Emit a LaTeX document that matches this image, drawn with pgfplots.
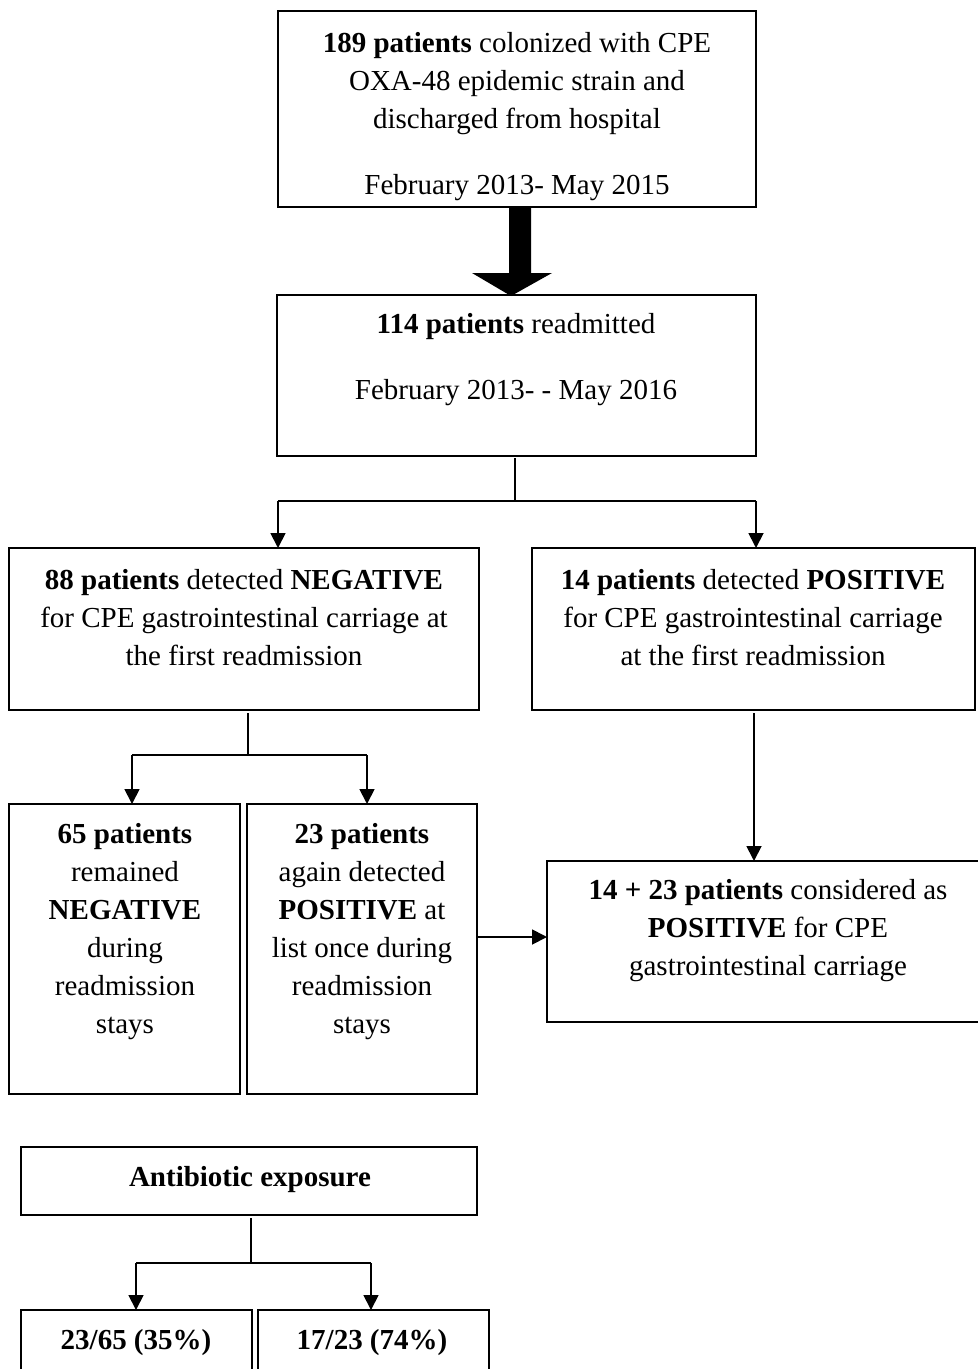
\documentclass[border=0pt]{standalone}
\usepackage{pgfplots}
\pgfplotsset{compat=1.18}
\usepackage{fontspec}
\setmainfont{Liberation Serif}
\usetikzlibrary{arrows.meta}
\begin{document}
\begin{tikzpicture}[txt/.style={align=center, font=\fontsize{14.5}{19}\selectfont, inner sep=0pt}]
\begin{axis}[
  scale only axis, width=489pt, height=684.5pt,
  xmin=0, xmax=978, ymin=0, ymax=1369, y dir=reverse,
  hide axis, clip=true,
  box/.style={black, line width=1pt, no markers, line join=miter},
  conn/.style={black, line width=0.9pt, no markers},
  arr/.style={black, line width=0.9pt, no markers, -{Triangle[width=7.5pt,length=7.5pt]}},
]
% boxes
\addplot[box] coordinates {(278,11) (756,11) (756,207) (278,207)} -- cycle;
\addplot[box] coordinates {(277,295) (756,295) (756,456) (277,456)} -- cycle;
\addplot[box] coordinates {(9,548) (479,548) (479,710) (9,710)} -- cycle;
\addplot[box] coordinates {(532,548) (975,548) (975,710) (532,710)} -- cycle;
\addplot[box] coordinates {(9,804) (240,804) (240,1094) (9,1094)} -- cycle;
\addplot[box] coordinates {(247,804) (477,804) (477,1094) (247,1094)} -- cycle;
\addplot[box] coordinates {(547,861) (985,861) (985,1022) (547,1022)} -- cycle;
\addplot[box] coordinates {(21,1147) (477,1147) (477,1215) (21,1215)} -- cycle;
\addplot[box] coordinates {(21,1310) (252,1310) (252,1390) (21,1390)} -- cycle;
\addplot[box] coordinates {(258,1310) (489,1310) (489,1390) (258,1390)} -- cycle;
% big arrow
\addplot[fill=black, draw=none, no markers] coordinates {(509,207) (531,207) (531,273) (552,273) (511,296) (472,273) (509,273)} -- cycle;
% connectors
\addplot[conn] coordinates {(515,458) (515,501)};
\addplot[conn] coordinates {(278,501) (756,501)};
\addplot[arr] coordinates {(278,501) (278,548)};
\addplot[arr] coordinates {(756,501) (756,548)};
\addplot[conn] coordinates {(248,713) (248,755)};
\addplot[conn] coordinates {(132,755) (367,755)};
\addplot[arr] coordinates {(132,755) (132,804)};
\addplot[arr] coordinates {(367,755) (367,804)};
\addplot[arr] coordinates {(754,713) (754,861)};
\addplot[arr] coordinates {(477,937) (547,937)};
\addplot[conn] coordinates {(251,1218) (251,1263)};
\addplot[conn] coordinates {(136,1263) (371,1263)};
\addplot[arr] coordinates {(136,1263) (136,1310)};
\addplot[arr] coordinates {(371,1263) (371,1310)};
% texts
\node[txt] at (axis cs:517,84) {\textbf{189 patients} colonized with CPE\\OXA-48 epidemic strain and\\discharged from hospital};
\node[txt] at (axis cs:517,188) {February 2013- May 2015};
\node[txt] at (axis cs:516,327) {\textbf{114 patients} readmitted};
\node[txt] at (axis cs:516,393) {February 2013- - May 2016};
\node[txt] at (axis cs:244,618) {\textbf{88 patients} detected \textbf{NEGATIVE}\\for CPE gastrointestinal carriage at\\the first readmission};
\node[txt] at (axis cs:753,618) {\textbf{14 patients} detected \textbf{POSITIVE}\\for CPE gastrointestinal carriage\\at the first readmission};
\node[txt] at (axis cs:125,932) {\textbf{65 patients}\\remained\\\textbf{NEGATIVE}\\during\\readmission\\stays};
\node[txt] at (axis cs:362,932) {\textbf{23 patients}\\again detected\\\textbf{POSITIVE} at\\list once during\\readmission\\stays};
\node[txt] at (axis cs:768,931) {\textbf{14 + 23 patients} considered as\\\textbf{POSITIVE} for CPE\\gastrointestinal carriage};
\node[txt] at (axis cs:250,1180) {\textbf{Antibiotic exposure}};
\node[txt] at (axis cs:136,1343) {\textbf{23/65 (35\%)}};
\node[txt] at (axis cs:372,1343) {\textbf{17/23 (74\%)}};
\end{axis}
\path (current axis.south west) rectangle (current axis.north east);
\end{tikzpicture}
\end{document}
